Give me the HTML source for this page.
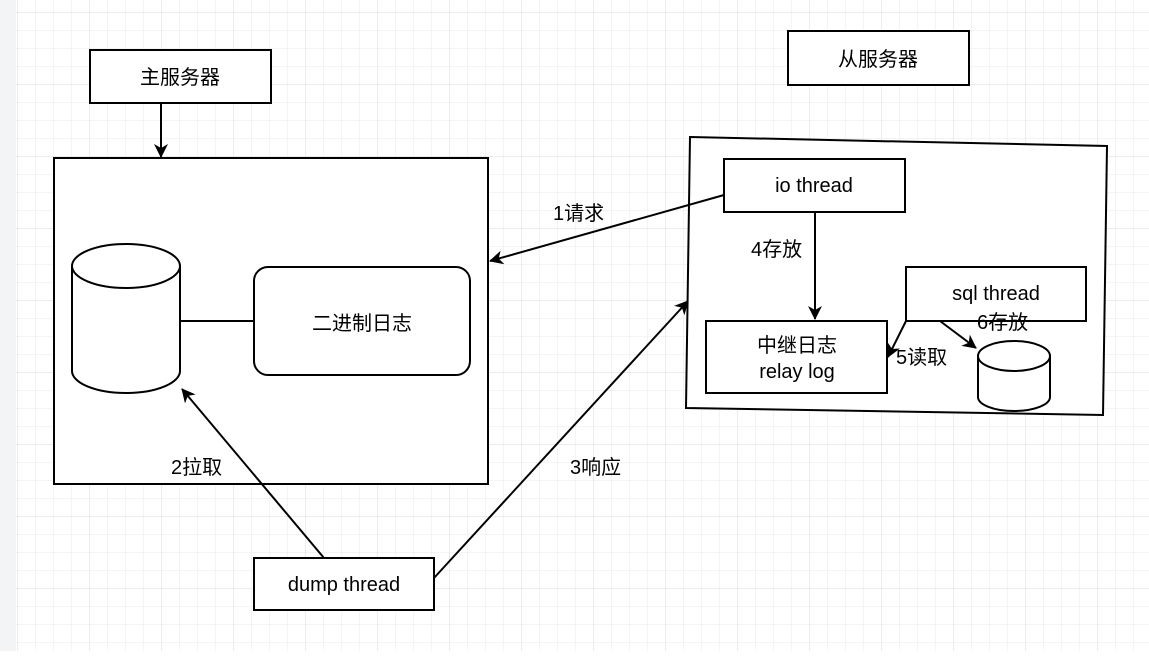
<!DOCTYPE html>
<html><head><meta charset="utf-8"><style>
body{margin:0;width:1149px;height:651px;overflow:hidden;background:#fff}
text{font-family:"Liberation Sans","Noto Sans CJK SC",sans-serif;font-size:20px;fill:#000}
</style></head><body>
<svg width="1149" height="651" xmlns="http://www.w3.org/2000/svg">
<defs>
<pattern id="mi" width="18" height="18" patternUnits="userSpaceOnUse" x="17" y="12">
<path d="M0 0H18M0 0V18" stroke="#e9e9e9" stroke-width="1" fill="none"/></pattern>
<pattern id="ma" width="72" height="72" patternUnits="userSpaceOnUse" x="17" y="12">
<path d="M0 0H72M0 0V72" stroke="#d8d8d8" stroke-width="1" fill="none"/></pattern>
<marker id="ar" markerWidth="14" markerHeight="14" refX="13" refY="7" orient="auto" markerUnits="userSpaceOnUse"><path d="M0 0L14 7L0 14L4 7Z" fill="#000"/></marker>
</defs>
<rect width="1149" height="651" fill="url(#mi)"/>
<rect width="1149" height="651" fill="url(#ma)"/>
<rect width="16" height="651" fill="#f3f4f6"/>
<g stroke="#000" stroke-width="2" fill="#fff">
<rect x="90" y="50" width="181" height="53"/>
<rect x="788" y="31" width="181" height="54"/>
<rect x="54" y="158" width="434" height="326"/>
<rect x="254" y="267" width="216" height="108" rx="14"/>
<path d="M72 266v105a54 22 0 0 0 108 0v-105" />
<ellipse cx="126" cy="266" rx="54" ry="22"/>
<line x1="180" y1="321" x2="254" y2="321"/>
<polygon points="690,137 1107,146 1103,415 686,408"/>
<rect x="724" y="159" width="181" height="53"/>
<rect x="906" y="267" width="180" height="54"/>
<rect x="706" y="321" width="181" height="72"/>
<path d="M978 356v41a36 14 0 0 0 72 0v-41"/>
<ellipse cx="1014" cy="356" rx="36" ry="15"/>
<rect x="254" y="558" width="180" height="52"/>
</g>
<g stroke="#000" stroke-width="2" fill="none" marker-end="url(#ar)">
<line x1="161" y1="103" x2="161" y2="157"/>
<line x1="724" y1="195" x2="490" y2="261"/>
<line x1="815" y1="212" x2="815" y2="319"/>
<line x1="906" y1="321" x2="888" y2="357"/>
<line x1="940" y1="321" x2="976" y2="348"/>
<line x1="324" y1="558" x2="182" y2="389"/>
<line x1="434" y1="578" x2="688" y2="301"/>
</g>
<text x="180" y="84" text-anchor="middle">主服务器</text>
<text x="878" y="66" text-anchor="middle">从服务器</text>
<text x="362" y="330" text-anchor="middle">二进制日志</text>
<text x="814" y="192" text-anchor="middle">io thread</text>
<text x="996" y="300" text-anchor="middle">sql thread</text>
<text x="797" y="352" text-anchor="middle">中继日志</text>
<text x="797" y="378" text-anchor="middle">relay log</text>
<text x="344" y="591" text-anchor="middle">dump thread</text>
<text x="553" y="220">1请求</text>
<text x="751" y="256">4存放</text>
<text x="977" y="329">6存放</text>
<text x="896" y="364">5读取</text>
<text x="171" y="474">2拉取</text>
<text x="570" y="474">3响应</text>
</svg>
</body></html>
